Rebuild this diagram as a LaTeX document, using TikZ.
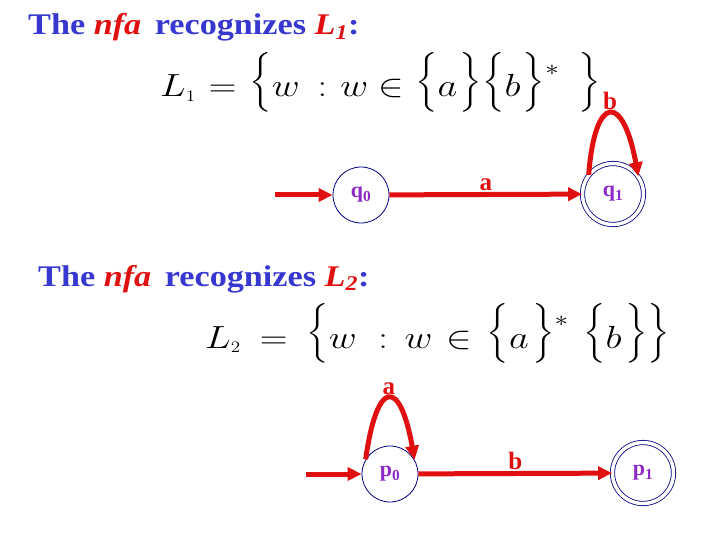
\RequirePackage{fix-cm}
\documentclass[tikz,border=0pt]{standalone}
\usepackage{fontspec}
\setmainfont{Liberation Serif}
\newfontfamily\titlefont{Liberation Serif}[FakeStretch=1.14]
\usepackage{amsmath}
\usetikzlibrary{arrows.meta,positioning}
\definecolor{titleblue}{RGB}{56,56,208}
\definecolor{nfared}{RGB}{224,16,16}
\definecolor{statepurple}{RGB}{142,43,200}
\definecolor{ringblue}{RGB}{0,0,128}

\newcommand{\mwide}[1]{\scalebox{1.2}[1]{#1}}
\newcommand{\lbr}{\mathopen{\raisebox{7pt}[30pt][8pt]{$\Big\{$}}}
\newcommand{\rbr}{\mathclose{\raisebox{7pt}[30pt][8pt]{$\Big\}$}}}

\tikzset{
  state/.style={circle, draw=ringblue, line width=0.8pt, minimum size=56pt,
    inner sep=0pt, text=statepurple, font=\fontsize{22}{26}\selectfont\bfseries},
  accepting/.style={state, double=white, double distance=3.5pt, minimum size=61pt},
  edge/.style={draw=nfared, line width=5pt, -{Triangle[length=14pt,width=13pt]}},
  edgelabel/.style={text=nfared, font=\fontsize{25}{28}\selectfont\bfseries},
  title/.style={anchor=base west, inner sep=0pt, text=titleblue, font=\titlefont\fontsize{30}{34}\selectfont\bfseries},
  formula/.style={anchor=base west, inner sep=0pt, font=\fontsize{32}{36}\selectfont}
}

\begin{document}
\begin{tikzpicture}[x=1pt,y=-1pt]
  \useasboundingbox (0,0) rectangle (720,540);

  % first language
  \node[title] (title1) at (28,35)
    {The \textcolor{nfared}{\textit{nfa}}\, recognizes \textcolor{nfared}{\textit{L\textsubscript{1}}}:};
  \node[formula] (lang1) at (160,97)
    {\mwide{$L_{\scriptscriptstyle 1} \mathrel{\hspace{2pt}=\hspace{2pt}} \lbr w \hspace{6pt}:\hspace{2pt} w \mathrel{\in} \lbr a\hspace{2pt}\rbr\lbr b\hspace{2pt}\rbr^{*}\hspace{16pt}\rbr$}};

  % nfa for L1
  \node[state] (q0) at (361,195) {q\textsubscript{0}};
  \node[accepting] (q1) at (613,194) {q\textsubscript{1}};
  \coordinate (start1) at (275,195);
  \draw[edge] (start1) -- (q0);
  \draw[edge] (q0) -- (q1) node[edgelabel, midway, above=-2pt] (lbla) {a};
  \draw[edge] (q1.142) .. controls (595,93) and (623,93) .. (q1.35)
    node[edgelabel, pos=0.5, above=-2pt] (lblb) {b};

  % second language
  \node[title] (title2) at (38,286)
    {The \textcolor{nfared}{\textit{nfa}}\, recognizes \textcolor{nfared}{\textit{L\textsubscript{2}}}:};
  \node[formula] (lang2) at (205,348)
    {\mwide{$L_{\scriptscriptstyle 2} \mathrel{\hspace{7pt}=\hspace{7pt}} \lbr w \hspace{9pt}:\hspace{5pt} w \mathrel{\hspace{3pt}\in\hspace{3pt}} \lbr a\hspace{3pt}\rbr^{*}\hspace{12pt}\lbr b\hspace{3pt}\rbr\rbr$}};

  % nfa for L2
  \node[state] (p0) at (390,474) {p\textsubscript{0}};
  \node[accepting] (p1) at (643,473) {p\textsubscript{1}};
  \coordinate (start2) at (306,474);
  \draw[edge] (start2) -- (p0);
  \draw[edge] (p0) -- (p1) node[edgelabel, midway, above=-2pt] (lblb2) {b};
  \draw[edge] (p0.149) .. controls (377,378) and (400,378) .. (p0.30)
    node[edgelabel, pos=0.5, above=-2pt] (lbla2) {a};
\end{tikzpicture}
\end{document}
